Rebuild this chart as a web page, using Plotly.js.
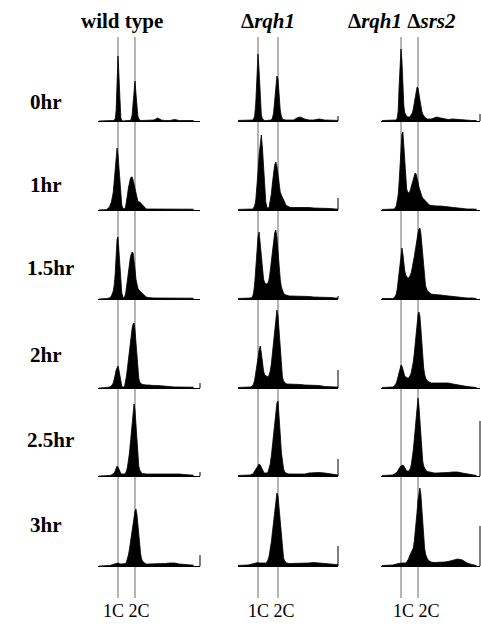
<!DOCTYPE html>
<html>
<head>
<meta charset="utf-8">
<script src="https://cdn.plot.ly/plotly-3.0.1.min.js"></script>
<style>html,body{margin:0;padding:0;background:#fff;}#chart{width:481px;height:626px;}</style>
</head>
<body>
<div id="chart"></div>
<script>
// DNA content channel (1C = 20, 2C = 38)
const channels = [0,4,8,11,13,15,16,17,18,19,20,21,22,23,24,25,26,27,28,29,30,31,32,33,34,35,36,37,38,39,40,41,42,43,44,45,46,48,50,52,55,58,62,66,70,75,80,85,90,95,100];

const strains = ['<b>wild type</b>', '<b>Δ<i>rqh1</i></b>', '<b>Δ<i>rqh1</i> Δ<i>srs2</i></b>'];
const timepoints = ['0hr', '1hr', '1.5hr', '2hr', '2.5hr', '3hr'];
const ploidyLabel = '1C 2C';

// wild type
const wt_0hr  = [0,0,0,0,0,0.5,1,2,10,35,65,45,15,3,0.5,0,0,0.3,0.3,0.3,0.3,0.3,0.3,0.5,2,6,18,34,40,28,12,5,2,1,0.5,0.5,0.5,0.5,0.5,0.5,0.5,1,3,1,0.5,0.5,1.5,0.5,0.5,0.5,0.5];
const wt_1hr  = [0,0,0.5,3,8,18,28,40,52,62,55,40,25,12,5,2,1,1,3,8,15,22,28,31,33,33,30,26,20,15,11,9,8,8,7,6,4,2,1,1,1,0.8,0.8,0.8,0.8,0.8,0.8,0.8,0.8,0.8,0.8];
const wt_15hr = [0,0,0.5,1,3,8,14,25,42,60,62,45,28,14,6,2.5,1.5,2,5,12,20,28,35,41,45,47,46,40,30,20,14,11,9,8,7,6,5,3,2,1.5,1,1,1,1,1,1,0.8,0.8,0.8,0.8,0.8];
const wt_2hr  = [0,0,0.5,1,2,5,8,13,18,21,22,18,11,5,2,1,1,2,6,12,20,29,38,46,54,60,64,65,58,45,30,18,10,6,4.5,4,3.5,3,3,3,2.5,2.5,2.5,2,2,1.5,1,1,0.8,0.8,0.8];
const wt_25hr = [0,0,0.5,0.5,1,2,3,5,8,10,9,6,4,2.5,2,2,2,2,3,5,9,15,22,32,44,57,68,72,66,50,32,18,10,6,4,3,2.5,2,2,2,2,2,2,2,2,2.5,2.5,2,1.5,1,0.8];
const wt_3hr  = [0,0,0.5,0.5,1,1.5,2,2.5,3,3,3,2.5,2,2,2,2,2,2,2.5,4,7,11,16,22,29,36,43,50,55,57,52,42,30,20,12,7,5,3,2,2,2,2,2,2,2.5,3,3,2,1.5,1,0.8];

// Δrqh1
const rqh1_0hr  = [0.5,0.5,0.5,0.5,0.5,1,2,5,18,45,67,50,22,6,2,1,0.5,0.5,0.5,0.5,0.5,0.5,1,3,8,20,36,45,42,26,11,5,2,1.5,1,1,1,1,1,1,3,4,2,1,1,2,1,0.5,0.5,0.5,0.5];
const rqh1_1hr  = [0.5,0.5,0.5,0.5,0.5,1,2,4,10,22,38,55,70,75,62,40,20,8,3,1.5,3,8,16,27,38,45,48,44,36,26,18,15,13,11,8,5,4,3,2.5,2.5,3,3,2.5,2.5,2,2,2,1.5,1,0.5,0.5];
const rqh1_15hr = [0.5,0.5,0.5,0.5,1,2,6,15,30,48,62,67,55,40,28,20,16,15,15,16,20,28,38,50,60,66,69,62,48,32,20,12,8,6,4.5,4,3.5,3,3,3,2.5,2.5,2.5,2.5,2,2,2,1.5,1,0.5,0.5];
const rqh1_2hr  = [0.5,0.5,0.5,0.5,1,2,4,8,14,22,30,38,42,35,24,17,13,12,11,11,13,17,24,34,46,58,70,78,72,55,35,20,11,7,5,4.5,4,4,4,3.5,3.5,3.5,3,3,3,2.5,1.5,1,1,0.5,0.5];
const rqh1_25hr = [0.5,0.5,0.5,0.5,1,2,3,5,7,9,11,12,11,8,5,4,3,3,3,4,7,12,20,30,42,55,66,73,75,62,42,24,13,7,4,3,2.5,2,2,2,2,2,2,3,3.5,3.5,3,2,1,0.5,0.5];
const rqh1_3hr  = [0.5,0.5,0.5,1,1.5,2,2.5,3,3,3.5,3.5,3,3,2.5,2.5,2.5,3,3,4,6,10,16,24,34,45,56,66,73,70,58,42,26,14,8,5,4,3,2.5,2.5,2.5,2.5,2.5,3,3,3.5,3,2,1.5,1,0.5,0.5];

// Δrqh1 Δsrs2
const dbl_0hr  = [0.5,0.5,0.5,0.5,0.5,1,3,10,35,62,72,60,35,15,8,6,5,4,4,4,5,6,8,12,18,25,31,34,33,27,20,14,10,7,5,4,3,2,2,2,3,4,3,2,1.5,2,1.5,1,0.5,0.5,0.5];
const dbl_1hr  = [0.5,0.5,0.5,0.5,1,4,8,15,28,45,62,76,78,62,42,28,21,18,17,18,20,24,28,32,35,37,36,33,28,23,19,16,14,12,11,9,8,6,5,4.5,4,4,4,3.5,3,3,2,1.5,1,1,0.8];
const dbl_15hr = [0.5,0.5,0.5,0.5,1.5,5,10,18,28,40,48,51,45,35,28,24,22,21,21,22,24,27,31,36,42,48,55,61,66,70,71,66,55,40,28,19,13,8,6,5,4.5,4,4,3.5,3,2.5,2,1.5,1,1,0.5];
const dbl_2hr  = [0.5,0.5,0.5,1,2,5,8,12,17,21,23,22,18,14,12,11,10,10,10,11,13,16,20,26,34,44,55,66,73,76,72,60,44,30,20,14,10,7,6,5,5,5,5.5,5.5,5,4,3,2,1.5,1,0.5];
const dbl_25hr = [0.5,0.5,0.5,1,2,3,4,6,8,9,10,11,11,10,8,6,5,5,5,6,8,12,18,26,36,48,62,74,78,70,55,38,24,15,10,7,6,4.5,4,3.5,3,3,3,3,3.5,4,4,3,2,1,0.5];
const dbl_3hr  = [0.5,0.5,0.5,1,1.5,2,2.5,3,3,3,3,3,3,3,3,3,4,5,7,10,12,13,15,18,24,32,42,54,66,75,78,72,58,42,28,18,12,7,5,4,3.5,3.5,3.5,4,4.5,5.5,7,6,3,1.5,0.5];

const wildTypeSeries = [wt_0hr, wt_1hr, wt_15hr, wt_2hr, wt_25hr, wt_3hr];
const rqh1Series = [rqh1_0hr, rqh1_1hr, rqh1_15hr, rqh1_2hr, rqh1_25hr, rqh1_3hr];
const doubleSeries = [dbl_0hr, dbl_1hr, dbl_15hr, dbl_2hr, dbl_25hr, dbl_3hr];
const markerPositions = [20, 38]; // 1C, 2C

// ---- layout configuration (pixels) ----
const W = 481, H = 626;
const colPx = [[98, 200], [238, 338], [381, 480]];
const colRange = [[-1.2, 106.9], [2, 92], [-1.2, 103.7]];
const rowBase = [121, 210, 299, 388, 476, 566];
const panelH = 85;
const rowLabelY = [102, 185, 268, 355, 440, 525];
const rowLabelX = [46, 46, 50, 46, 50, 46];
const titleX = [122, 268, 402];
const bottomLabelX = [126, 271, 416];
const rightTick = [[0,5,7],[0,12,0],[0,3,0],[5,18,0],[4,17,55],[11,20,40]];

const columns = [wildTypeSeries, rqh1Series, doubleSeries];
const traces = [];
const layout = {
  width: W, height: H,
  margin: {l: 0, r: 0, t: 0, b: 0},
  paper_bgcolor: '#ffffff',
  plot_bgcolor: 'rgba(0,0,0,0)',
  showlegend: false,
  font: {family: 'Liberation Serif, Times New Roman, serif', color: '#000'},
  annotations: [],
  shapes: []
};

let k = 0;
for (let r = 0; r < 6; r++) {
  for (let c = 0; c < 3; c++) {
    k++;
    const xa = k === 1 ? 'x' : 'x' + k;
    const ya = k === 1 ? 'y' : 'y' + k;
    const xkey = k === 1 ? 'xaxis' : 'xaxis' + k;
    const ykey = k === 1 ? 'yaxis' : 'yaxis' + k;
    traces.push({
      type: 'scatter', mode: 'lines', x: channels, y: columns[c][r],
      xaxis: xa, yaxis: ya, fill: 'tozeroy', fillcolor: '#000',
      line: {color: '#000', width: 0.8}, hoverinfo: 'skip'
    });
    layout[xkey] = {
      domain: [colPx[c][0] / W, colPx[c][1] / W], range: colRange[c], anchor: ya,
      showline: true, linecolor: '#000', linewidth: 1.2, showgrid: false,
      zeroline: false, showticklabels: false, ticks: '', fixedrange: true
    };
    layout[ykey] = {
      domain: [1 - rowBase[r] / H, 1 - (rowBase[r] - panelH) / H], range: [0, panelH],
      anchor: xa, visible: false, fixedrange: true
    };
    if (rightTick[r][c] > 0) {
      layout.shapes.push({type: 'line', xref: xa + ' domain', yref: ya,
        x0: 1, x1: 1, y0: 0, y1: rightTick[r][c], line: {color: '#000', width: 1}});
    }
  }
}

// 1C / 2C reference lines spanning each column
for (let c = 0; c < 3; c++) {
  const xa = c === 0 ? 'x' : 'x' + (c + 1);
  markerPositions.forEach(p => {
    layout.shapes.push({type: 'line', xref: xa, yref: 'paper', layer: 'below',
      x0: p, x1: p, y0: 1 - 598 / H, y1: 1 - 37 / H, line: {color: '#6a6a6a', width: 1}});
  });
  layout.annotations.push({text: strains[c], xref: 'paper', yref: 'paper',
    x: titleX[c] / W, y: 1 - 21 / H, xanchor: 'center', yanchor: 'middle',
    showarrow: false, font: {size: 21, family: 'Liberation Serif, serif'}});
  layout.annotations.push({text: ploidyLabel, xref: 'paper', yref: 'paper',
    x: bottomLabelX[c] / W, y: 1 - 611 / H, xanchor: 'center', yanchor: 'middle',
    showarrow: false, font: {size: 18, family: 'Liberation Serif, serif'}});
}
for (let r = 0; r < 6; r++) {
  layout.annotations.push({text: '<b>' + timepoints[r] + '</b>', xref: 'paper', yref: 'paper',
    x: rowLabelX[r] / W, y: 1 - rowLabelY[r] / H, xanchor: 'center', yanchor: 'middle',
    showarrow: false, font: {size: 21, family: 'Liberation Serif, serif'}});
}

Plotly.newPlot('chart', traces, layout, {staticPlot: true, displayModeBar: false});
</script>
</body>
</html>
